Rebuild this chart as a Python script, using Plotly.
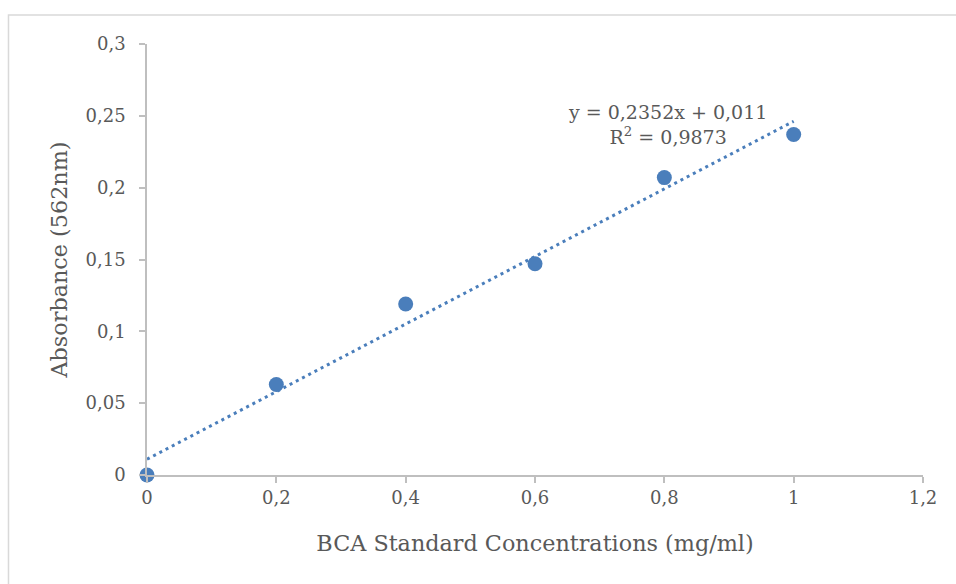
import plotly.graph_objects as go

# BCA standard curve measurements
concentrations = [0, 0.2, 0.4, 0.6, 0.8, 1.0]          # mg/ml
absorbance = [0.0, 0.063, 0.119, 0.147, 0.207, 0.237]  # A562

# Linear trendline as reported on the chart
slope = 0.2352
intercept = 0.011
r_squared = 0.9873

x_ticks = [0, 0.2, 0.4, 0.6, 0.8, 1.0, 1.2]
x_tick_labels = ["0", "0,2", "0,4", "0,6", "0,8", "1", "1,2"]
y_ticks = [0, 0.05, 0.1, 0.15, 0.2, 0.25, 0.3]
y_tick_labels = ["0", "0,05", "0,1", "0,15", "0,2", "0,25", "0,3"]

BLUE = "#4a7ebb"
TEXT = "#595959"
AXIS = "#bfbfbf"
FONT = "DejaVu Serif"


def dec(v):
    return str(v).replace(".", ",")


trend_x = [concentrations[0], concentrations[-1]]
trend_y = [slope * x + intercept for x in trend_x]

fig = go.Figure()
fig.add_trace(go.Scatter(
    x=trend_x, y=trend_y, mode="lines",
    line=dict(color=BLUE, width=3, dash="3px,4px"),
    hoverinfo="skip", showlegend=False, cliponaxis=False,
))
fig.add_trace(go.Scatter(
    x=concentrations, y=absorbance, mode="markers",
    marker=dict(color=BLUE, size=15),
    showlegend=False, cliponaxis=False,
))

fig.add_annotation(
    x=0.805, y=0.2443, xref="x", yref="y",
    text=f"y = {dec(slope)}x + {dec(intercept)}<br>R<sup>2</sup> = {dec(r_squared)}",
    showarrow=False, align="center",
    font=dict(family=FONT, size=19, color=TEXT),
)

# outer chart frame
fig.add_shape(
    type="rect", xref="paper", yref="paper",
    x0=-0.1785, y0=-0.6, x1=1.3, y1=1.0673,
    line=dict(color="#d9d9d9", width=1.5), fillcolor="rgba(0,0,0,0)",
    layer="below",
)

fig.update_layout(
    width=956, height=584,
    margin=dict(l=147, r=33, t=44, b=109),
    paper_bgcolor="white", plot_bgcolor="white",
    font=dict(family=FONT, size=18, color=TEXT),
    xaxis=dict(
        range=[0, 1.2], tickmode="array", tickvals=x_ticks, ticktext=x_tick_labels,
        showgrid=False, zeroline=False, showline=True, linecolor=AXIS, linewidth=1.5,
        ticks="outside", ticklen=6, tickcolor=AXIS, tickwidth=1.5,
        title=dict(text="BCA Standard Concentrations (mg/ml)", standoff=28,
                   font=dict(family=FONT, size=22.3, color=TEXT)),
    ),
    yaxis=dict(
        range=[0, 0.3], tickmode="array", tickvals=y_ticks, ticktext=y_tick_labels,
        showgrid=False, zeroline=False, showline=True, linecolor=AXIS, linewidth=1.5,
        ticks="outside", ticklen=6, tickcolor=AXIS, tickwidth=1.5,
        ticklabelstandoff=10,
        title=dict(text="Absorbance (562nm)", standoff=12,
                   font=dict(family=FONT, size=22.3, color=TEXT)),
    ),
)

fig.write_html("out.html")
